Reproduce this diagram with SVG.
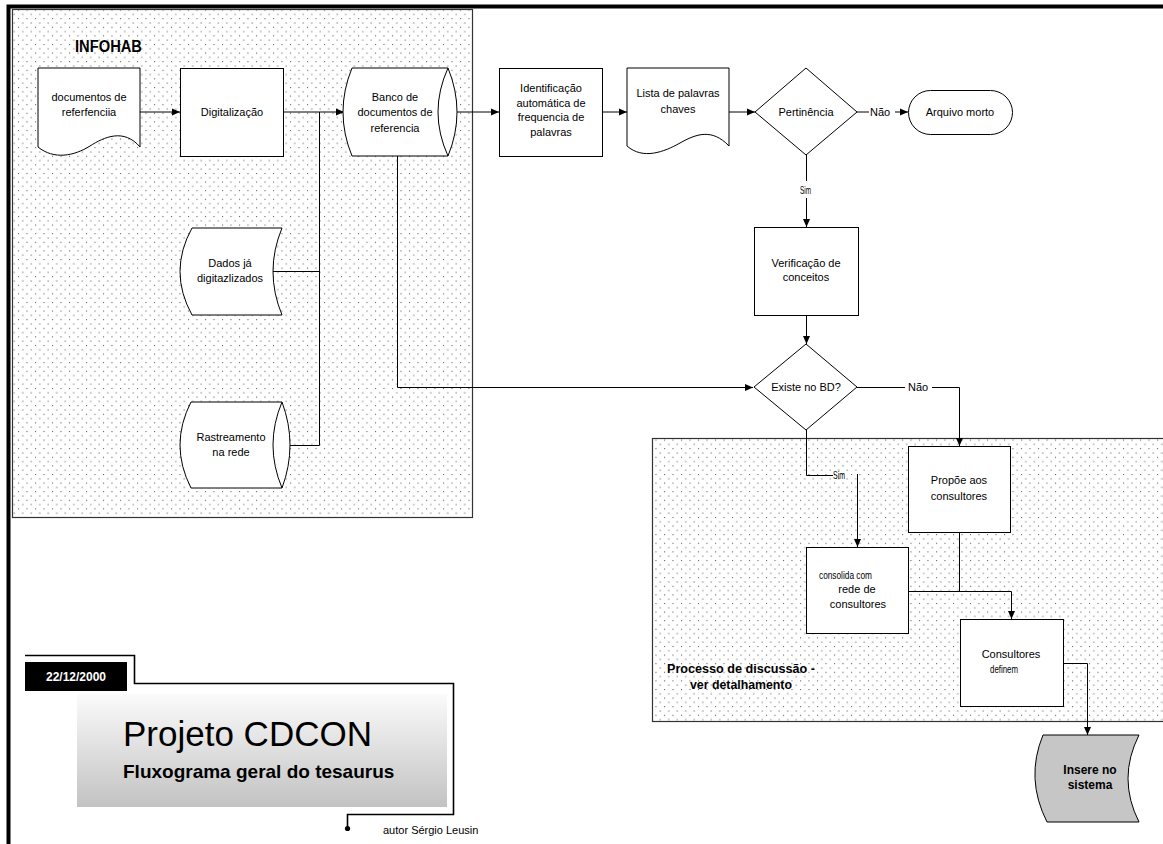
<svg xmlns="http://www.w3.org/2000/svg" width="1163" height="844" viewBox="0 0 1163 844">
  <style>
    .node { fill: #fff; stroke: #000; stroke-width: 1; }
    .gray { fill: #c6c6c6; stroke: #000; stroke-width: 1; }
    .zone { fill: url(#dots); stroke: #333; stroke-width: 1.2; }
    .t { font-family: "Liberation Sans", Arial, sans-serif; font-size: 11px; fill: #000; text-anchor: middle; }
    .tl { font-family: "Liberation Sans", Arial, sans-serif; font-size: 11px; fill: #000; }
    .b { font-weight: bold; }
    .wire { fill: none; stroke: #000; stroke-width: 1; }
    .arrow { fill: none; stroke: #000; stroke-width: 1; marker-end: url(#head); }
    .frame { fill: none; stroke: #000; stroke-width: 1.6; }
  </style>
  <defs>
    <pattern id="dots" width="8.5" height="8.6" patternUnits="userSpaceOnUse">
      <rect width="8.5" height="8.6" fill="#fff"/>
      <rect x="1" y="1" width="1" height="1" fill="#444"/>
      <rect x="5.25" y="5.3" width="1" height="1" fill="#444"/>
    </pattern>
    <linearGradient id="titleFill" x1="0" y1="0" x2="0" y2="1">
      <stop offset="0" stop-color="#fbfbfb"/>
      <stop offset="1" stop-color="#c2c2c2"/>
    </linearGradient>
    <marker id="head" markerWidth="8" markerHeight="8" refX="8" refY="4" orient="auto" markerUnits="userSpaceOnUse">
      <path d="M0,0.5 L8,4 L0,7.5 Z" fill="#000"/>
    </marker>
  </defs>

  <!-- page frame -->
  <path d="M8.5,844 V6.5 H1163" fill="none" stroke="#000" stroke-width="4"/>

  <!-- shaded zones -->
  <g id="zone-infohab">
    <rect class="zone" x="12.5" y="9.5" width="460" height="508"/>
    <text class="tl b" x="75" y="52" style="font-size:16px" textLength="67" lengthAdjust="spacingAndGlyphs">INFOHAB</text>
  </g>
  <g id="zone-discussao">
    <rect class="zone" x="652.5" y="438.5" width="520" height="283"/>
    <text class="tl b" x="667" y="673" style="font-size:12px" textLength="148" lengthAdjust="spacingAndGlyphs">Processo de discussão  -</text>
    <text class="tl b" x="690" y="689" style="font-size:12px" textLength="102" lengthAdjust="spacingAndGlyphs">ver detalhamento</text>
  </g>

  <!-- connectors -->
  <g id="connectors">
    <path class="arrow" d="M140,112 H180"/>
    <path class="arrow" d="M283,112 H344"/>
    <path class="wire" d="M319.5,112 V445.5 H290"/>
    <path class="wire" d="M273,271.5 H319.5"/>
    <path class="arrow" d="M457,112 H499"/>
    <path class="arrow" d="M602,112 H627"/>
    <path class="arrow" d="M729,112 H755"/>
    <path class="wire" d="M857,112 H869"/>
    <text class="tl" x="870" y="116">Não</text>
    <path class="arrow" d="M895,112 H908"/>
    <path class="wire" d="M806.5,155 V181"/>
    <text class="tl" x="800" y="194" textLength="11" lengthAdjust="spacingAndGlyphs">Sim</text>
    <path class="arrow" d="M806.5,198 V227"/>
    <path class="arrow" d="M806.5,315 V344"/>
    <path class="arrow" d="M397.5,156 V387.5 H753"/>
    <path class="wire" d="M857,387.5 H905"/>
    <text class="tl" x="908" y="391">Não</text>
    <path class="arrow" d="M932,387.5 H959.5 V446"/>
    <path class="wire" d="M806.5,430 V475.5 H833"/>
    <text class="tl" x="833" y="479" textLength="12" lengthAdjust="spacingAndGlyphs">Sim</text>
    <path class="arrow" d="M857.5,474 V547"/>
    <path class="wire" d="M959.5,532 V591.5"/>
    <path class="arrow" d="M908,591.5 H1011.5 V619"/>
    <path class="arrow" d="M1063,663.5 H1087.5 V735"/>
  </g>

  <!-- INFOHAB nodes -->
  <g id="doc-referencia">
    <path class="node" d="M38,68 H140 V147 C124,128 104,137 90,146 C74,156 54,160 38,147 Z"/>
    <text class="t" x="89" y="101">documentos  de</text>
    <text class="t" x="89" y="116">referfenciia</text>
  </g>
  <g id="digitalizacao">
    <rect class="node" x="180.5" y="68.5" width="103" height="88"/>
    <text class="t" x="232" y="116">Digitalização</text>
  </g>
  <g id="banco">
    <path class="node" d="M352,68 H448 Q466,112 448,156 H352 Q334,112 352,68 Z"/>
    <path class="wire" d="M448,68 Q428,112 448,156"/>
    <text class="t" x="395" y="101">Banco de</text>
    <text class="t" x="395" y="116">documentos de</text>
    <text class="t" x="395" y="132">referencia</text>
  </g>
  <g id="dados-digitalizados">
    <path class="node" d="M192,228 H282 Q264,271.5 282,315 H192 Q168,271.5 192,228 Z"/>
    <text class="t" x="230" y="267">Dados já</text>
    <text class="t" x="230" y="282">digitazlizados</text>
  </g>
  <g id="rastreamento">
    <path class="node" d="M191,402 H282 Q298,445 282,488 H191 Q169,445 191,402 Z"/>
    <path class="wire" d="M282,402 Q264,445 282,488"/>
    <text class="t" x="231" y="441">Rastreamento</text>
    <text class="t" x="231" y="456">na rede</text>
  </g>

  <!-- main flow nodes -->
  <g id="identificacao">
    <rect class="node" x="499.5" y="68.5" width="103" height="88"/>
    <text class="t" x="551" y="92">Identificação</text>
    <text class="t" x="551" y="107">automática de</text>
    <text class="t" x="551" y="121">frequencia de</text>
    <text class="t" x="551" y="136">palavras</text>
  </g>
  <g id="lista-palavras">
    <path class="node" d="M627,68 H729 V146 C712,128 696,134 680,143 C664,152 643,160 627,146 Z"/>
    <text class="t" x="678" y="97">Lista de palavras</text>
    <text class="t" x="678" y="113">chaves</text>
  </g>
  <g id="pertinencia">
    <path class="node" d="M806,68 L857,112 L806,155 L755,112 Z"/>
    <text class="t" x="806" y="116">Pertinência</text>
  </g>
  <g id="arquivo-morto">
    <rect class="node" x="908.5" y="90.5" width="104" height="44" rx="22" ry="22"/>
    <text class="t" x="960" y="116">Arquivo morto</text>
  </g>
  <g id="verificacao">
    <rect class="node" x="754.5" y="227.5" width="104" height="88"/>
    <text class="t" x="806" y="267">Verificação de</text>
    <text class="t" x="806" y="281">conceitos</text>
  </g>
  <g id="existe-bd">
    <path class="node" d="M806,344 L857,387 L806,430 L754,387 Z"/>
    <text class="t" x="806" y="391">Existe no BD?</text>
  </g>

  <!-- discussion nodes -->
  <g id="propoe">
    <rect class="node" x="908.5" y="446.5" width="102" height="86"/>
    <text class="t" x="959" y="484">Propõe aos</text>
    <text class="t" x="959" y="500">consultores</text>
  </g>
  <g id="consolida">
    <rect class="node" x="806.5" y="547.5" width="102" height="86"/>
    <text class="tl" x="819" y="579" textLength="53" lengthAdjust="spacingAndGlyphs">consolida com</text>
    <text class="t" x="857" y="593">rede de</text>
    <text class="t" x="858" y="608">consultores</text>
  </g>
  <g id="consultores-definem">
    <rect class="node" x="960.5" y="619.5" width="103" height="87"/>
    <text class="t" x="1011" y="658">Consultores</text>
    <text class="tl" x="990" y="673" textLength="28" lengthAdjust="spacingAndGlyphs">definem</text>
  </g>
  <g id="insere-sistema">
    <path class="gray" d="M1043,735 H1139 Q1117,778.5 1139,822 H1047 Q1025,778.5 1043,735 Z"/>
    <text class="t b" x="1090" y="774" style="font-size:12px">Insere no</text>
    <text class="t b" x="1090" y="789" style="font-size:12px">sistema</text>
  </g>

  <!-- title block -->
  <g id="title-block">
    <path class="frame" d="M25,655.5 H134.5 V683.5 H453.5 V814.5 H347.5 V828"/>
    <circle cx="347.5" cy="828.5" r="2.6" fill="#000"/>
    <rect x="25" y="662" width="102" height="29" fill="#000"/>
    <text class="t b" x="76" y="681" style="font-size:12px;fill:#fff">22/12/2000</text>
    <rect x="77" y="694" width="370" height="113" fill="url(#titleFill)"/>
    <text class="tl" x="123" y="746" style="font-size:35px">Projeto CDCON</text>
    <text class="tl b" x="123" y="778" style="font-size:19px">Fluxograma geral do tesaurus</text>
    <text class="tl" x="383" y="834">autor Sérgio Leusin</text>
  </g>
</svg>
